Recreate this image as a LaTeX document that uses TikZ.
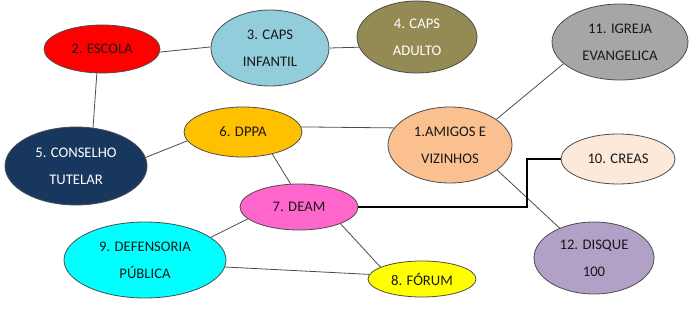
\documentclass[tikz,border=0pt]{standalone}
\usepackage{fontspec}
\setmainfont{Carlito}
\usetikzlibrary{shapes.geometric}
\definecolor{cEscola}{HTML}{FF0000}
\definecolor{cCapsInf}{HTML}{92CDDC}
\definecolor{cCapsAd}{HTML}{948A54}
\definecolor{cIgreja}{HTML}{A6A6A6}
\definecolor{cAmigos}{HTML}{FAC090}
\definecolor{cDppa}{HTML}{FFC000}
\definecolor{cConselho}{HTML}{17375E}
\definecolor{cDeam}{HTML}{FF66CC}
\definecolor{cDef}{HTML}{00FFFF}
\definecolor{cForum}{HTML}{FFFF00}
\definecolor{cCreas}{HTML}{FDE9D9}
\definecolor{cDisque}{HTML}{B2A1C7}
\begin{document}
\begin{tikzpicture}[x=0.75pt,y=-0.75pt,
  bub/.style={ellipse, draw=black!70, line width=0.6pt, inner sep=0pt, align=center,
    font=\fontsize{11}{20.25}\selectfont, text=black!90},
  link/.style={draw=black!70, line width=0.6pt}]
\useasboundingbox (0,0) rectangle (698,309);
\node[bub, fill=cEscola, minimum width=87pt, minimum height=36pt] (escola) at (102,49) {2. ESCOLA};
\node[bub, fill=cCapsInf, minimum width=88.5pt, minimum height=57pt] (capsinf) at (270,48) {3. CAPS\\INFANTIL};
\node[bub, fill=cCapsAd, text=white, minimum width=90pt, minimum height=54pt] (capsad) at (417,37) {4. CAPS\\ADULTO};
\node[bub, fill=cIgreja, minimum width=102pt, minimum height=57pt] (igreja) at (620,42) {11. IGREJA\\EVANGELICA};
\node[bub, fill=cAmigos, minimum width=93pt, minimum height=57pt] (amigos) at (450,145) {1.AMIGOS E\\VIZINHOS};
\node[bub, fill=cDppa, minimum width=88.5pt, minimum height=37.5pt] (dppa) at (243,132) {6. DPPA};
\node[bub, fill=cConselho, text=white, minimum width=106.5pt, minimum height=58.5pt] (conselho) at (76,166) {5. CONSELHO\\TUTELAR};
\node[bub, fill=cDeam, minimum width=88.5pt, minimum height=34.5pt] (deam) at (299,207) {7. DEAM};
\node[bub, fill=cDef, minimum width=121.5pt, minimum height=57pt] (def) at (145,260) {9. DEFENSORIA\\PÚBLICA};
\node[bub, fill=cForum, minimum width=81pt, minimum height=27pt] (forum) at (422,279) {8. FÓRUM};
\node[bub, fill=cCreas, minimum width=85.5pt, minimum height=37.5pt] (creas) at (618,159) {10. CREAS};
\node[bub, fill=cDisque, minimum width=90pt, minimum height=54pt] (disque) at (594,258) {12. DISQUE\\100};
\coordinate (bend) at (527,159);
\draw[link] (escola.-3) -- (capsinf.179);
\draw[link] (capsinf.east) -- (capsad.190);
\draw[link] (escola.258) -- (conselho.66);
\draw[link] (conselho.7) -- (dppa.189);
\draw[link] (dppa.5) -- (amigos.163);
\draw[link] (dppa.-37) -- (deam.110);
\draw[link] (amigos.29) -- (igreja.201);
\draw[link] (amigos.-28) -- (disque.139);
\draw[line width=0.8pt, black] (deam.east) -| (bend) -- (creas.west);
\draw[link] (deam.-22) -- (forum.164);
\draw[link] (deam.193) -- (def.19);
\draw[link] (def.-5) -- (forum.175);
\end{tikzpicture}
\end{document}
